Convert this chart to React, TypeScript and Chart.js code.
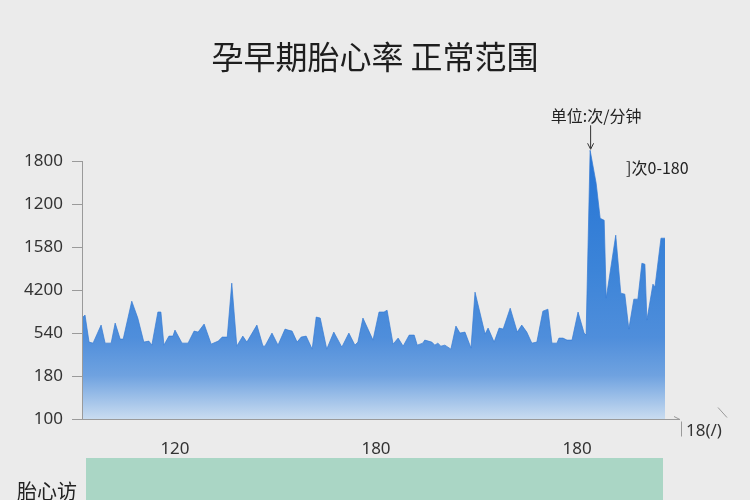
import React, { useEffect, useRef } from "react";
import { Chart, registerables } from "chart.js";

Chart.register(...registerables);

// time index (samples) of each reading
const timeIdx = [
  0, 0.6, 1.4, 2.2, 3.8, 4.6, 5.8, 6.6, 7.6, 8.2, 9.9, 11.1, 12.3, 13.3, 13.9, 15.1, 15.7, 16.3, 17.3, 18.1,
  18.5, 19.9, 21.1, 22.3, 23.1, 24.3, 25.7, 27.1, 27.9, 28.9, 29.8, 30.8, 32.0, 32.8, 34.8, 36.0, 36.4, 37.8, 39.0, 40.4,
  41.0, 41.8, 42.8, 43.6, 44.6, 45.8, 46.6, 47.4, 48.7, 50.1, 51.7, 53.1, 54.3, 54.9, 55.9, 57.9, 59.1, 60.1, 60.7, 61.9,
  62.9, 63.9, 65.1, 66.1, 66.7, 67.8, 68.2, 69.6, 70.2, 70.8, 71.4, 72.2, 73.4, 74.4, 75.2, 76.2, 77.4, 78.2, 80.2, 80.8,
  82.0, 83.0, 83.8, 85.2, 86.6, 87.5, 88.5, 89.5, 90.5, 91.7, 92.7, 93.5, 94.5, 94.9, 95.7, 96.5, 97.5, 98.7, 99.9, 100.3,
  101.1, 102.3, 103.1, 103.9, 104.3, 106.2, 107.2, 108.0, 108.8, 109.8, 110.6, 111.4, 112.0, 112.4, 113.6, 114.0, 115.2, 116.0,
];

// heart rate readings (axis units)
const heartRate = [
  70.5, 72.6, 53.7, 53.0, 65.6, 53.0, 53.0, 67.0, 55.8, 55.8, 82.3, 70.5, 53.7, 54.4, 51.6, 74.7, 74.7, 51.6, 57.9, 57.9,
  62.1, 53.0, 53.0, 61.4, 60.7, 66.3, 52.3, 54.4, 57.2, 57.2, 94.9, 50.9, 57.9, 53.7, 65.6, 50.9, 50.9, 60.0, 51.6, 62.8,
  62.1, 61.4, 53.7, 57.2, 57.9, 48.8, 71.2, 70.5, 48.8, 60.7, 50.2, 60.0, 51.6, 53.7, 70.5, 55.1, 74.7, 74.7, 76.0, 52.3,
  56.5, 50.9, 58.6, 58.6, 51.6, 53.0, 55.1, 53.7, 51.6, 53.0, 50.9, 51.6, 48.8, 64.9, 60.0, 60.7, 49.5, 88.6, 59.3, 63.5,
  53.7, 63.5, 62.8, 77.4, 60.7, 65.6, 60.7, 53.0, 53.7, 75.3, 76.7, 53.0, 53.0, 56.5, 56.5, 55.1, 55.1, 74.7, 60.0, 58.6,
  187.7, 164.7, 140.2, 138.8, 84.4, 128.4, 87.9, 87.2, 62.8, 83.7, 83.7, 108.8, 108.1, 69.1, 94.2, 92.1, 126.3, 126.3,
];

const yTickValues = [0, 30, 60, 90, 120, 150, 180];
const yTickLabels = ["100", "180", "540", "4200", "1580", "1200", "1800"];
const xTickPositions = [18.5, 58.5, 98.5];
const xTickLabels = ["120", "180", "180"];

const titleText = "孕早期胎心率 正常范围";
const unitText = "单位:次/分钟";
const rangeText = "]次0-180";
const xAxisEndText = "18(/)";
const bandText = "胎心访";

const FONT = "'Noto Sans', 'Noto Sans CJK SC', sans-serif";

const decorPlugin = {
  id: "decor",
  beforeDraw(chart: any) {
    const { ctx, width, height } = chart;
    ctx.save();
    ctx.fillStyle = "#ebebeb";
    ctx.fillRect(0, 0, width, height);
    ctx.restore();
  },
  afterDraw(chart: any) {
    const { ctx, chartArea } = chart;
    const xs = chart.scales.x;
    const ys = chart.scales.y;
    ctx.save();
    // y axis line (from top tick to bottom)
    const topTickY = ys.getPixelForValue(yTickValues[yTickValues.length - 1]);
    ctx.strokeStyle = "#9a9a9a";
    ctx.lineWidth = 1;
    ctx.beginPath();
    ctx.moveTo(chartArea.left + 0.5, Math.round(topTickY));
    ctx.lineTo(chartArea.left + 0.5, chartArea.bottom);
    ctx.stroke();

    // title
    ctx.fillStyle = "#1e1e1e";
    ctx.font = `32px 'Noto Sans CJK SC', sans-serif`;
    ctx.textAlign = "center";
    ctx.textBaseline = "middle";
    ctx.fillText(titleText, 375, 57);

    // peak annotation
    let peakI = 0;
    heartRate.forEach((v, i) => {
      if (v > heartRate[peakI]) peakI = i;
    });
    const px = xs.getPixelForValue(timeIdx[peakI]);
    const py = ys.getPixelForValue(heartRate[peakI]);
    ctx.font = `16px 'Noto Sans CJK SC', sans-serif`;
    ctx.fillStyle = "#222";
    ctx.textAlign = "center";
    ctx.fillText(unitText, px + 6, py - 34);
    ctx.strokeStyle = "#333";
    ctx.beginPath();
    ctx.moveTo(px + 0.5, py - 25);
    ctx.lineTo(px + 0.5, py - 2);
    ctx.stroke();
    ctx.beginPath();
    ctx.moveTo(px - 2.5, py - 7);
    ctx.lineTo(px + 0.5, py - 1);
    ctx.lineTo(px + 3.5, py - 7);
    ctx.stroke();
    ctx.textAlign = "left";
    ctx.fillText(rangeText, px + 36, py + 18);

    // x axis extension
    const by = chartArea.bottom + 0.5;
    ctx.strokeStyle = "#9a9a9a";
    ctx.beginPath();
    ctx.moveTo(chartArea.right, by);
    ctx.lineTo(chartArea.right + 15, by);
    ctx.stroke();
    ctx.beginPath();
    ctx.moveTo(chartArea.right + 9, by - 3);
    ctx.lineTo(chartArea.right + 15, by);
    ctx.stroke();
    ctx.beginPath();
    ctx.moveTo(chartArea.right + 16.5, by + 2);
    ctx.lineTo(chartArea.right + 16.5, by + 17);
    ctx.stroke();
    ctx.beginPath();
    ctx.moveTo(chartArea.right + 53, by - 12);
    ctx.lineTo(chartArea.right + 62, by - 2);
    ctx.stroke();
    ctx.fillStyle = "#333";
    ctx.font = `17px ${FONT}`;
    ctx.textBaseline = "middle";
    ctx.fillText(xAxisEndText, chartArea.right + 21, by + 12);

    // bottom band
    ctx.fillStyle = "#aad6c5";
    ctx.fillRect(chartArea.left + 4, 458, chartArea.right - chartArea.left - 6, 42);
    ctx.fillStyle = "#222";
    ctx.font = `20px 'Noto Sans CJK SC', sans-serif`;
    ctx.textAlign = "left";
    ctx.fillText(bandText, 17, 491);
    ctx.restore();
  },
};

export default function App() {
  const ref = useRef<HTMLCanvasElement>(null);
  useEffect(() => {
    if (!ref.current) return;
    const chart = new Chart(ref.current, {
      type: "line",
      data: {
        datasets: [
          {
            data: timeIdx.map((t, i) => ({ x: t, y: heartRate[i] })),
            fill: "origin",
            borderColor: "rgba(52,122,212,0.7)",
            borderWidth: 1,
            pointRadius: 0,
            tension: 0,
            backgroundColor: (c: any) => {
              const { chart } = c;
              const area = chart.chartArea;
              if (!area) return "#4c8ddb";
              const g = chart.ctx.createLinearGradient(0, area.top, 0, area.bottom);
              g.addColorStop(0, "#2574d5");
              g.addColorStop(0.45, "#3c84d8");
              g.addColorStop(0.7, "#4f8edb");
              g.addColorStop(0.84, "#6fa2e0");
              g.addColorStop(1, "#c9dcf0");
              return g;
            },
          },
        ],
      },
      options: {
        animation: false,
        responsive: false,
        devicePixelRatio: 1,
        layout: { padding: { top: 147, right: 85, bottom: 0, left: 0 } },
        plugins: { legend: { display: false }, title: { display: false }, tooltip: { enabled: false } },
        scales: {
          x: {
            type: "linear",
            min: 0,
            max: 116,
            grid: { display: false },
            border: { display: true, color: "#9a9a9a", width: 1 },
            afterBuildTicks: (s: any) => {
              s.ticks = xTickPositions.map((v) => ({ value: v }));
            },
            afterFit: (s: any) => {
              s.height = 81;
            },
            ticks: {
              padding: 12,
              color: "#333",
              font: { family: FONT, size: 17 },
              maxRotation: 0,
              autoSkip: false,
              callback: (_v: any, i: number) => xTickLabels[i],
            },
          },
          y: {
            min: 0,
            max: 190,
            grid: { drawOnChartArea: false, drawTicks: true, tickLength: 10, color: "#9a9a9a" },
            border: { display: false },
            afterBuildTicks: (s: any) => {
              s.ticks = yTickValues.map((v) => ({ value: v }));
            },
            afterFit: (s: any) => {
              s.width = 82;
            },
            ticks: {
              padding: 9,
              color: "#333",
              font: { family: FONT, size: 17 },
              callback: (_v: any, i: number) => yTickLabels[i],
            },
          },
        },
      },
      plugins: [decorPlugin],
    });
    return () => chart.destroy();
  }, []);
  return (
    <div style={{ position: "fixed", left: 0, top: 0, width: 750, height: 500, background: "#ebebeb" }}>
      <canvas ref={ref} width={750} height={500} style={{ width: 750, height: 500, display: "block" }} />
    </div>
  );
}
